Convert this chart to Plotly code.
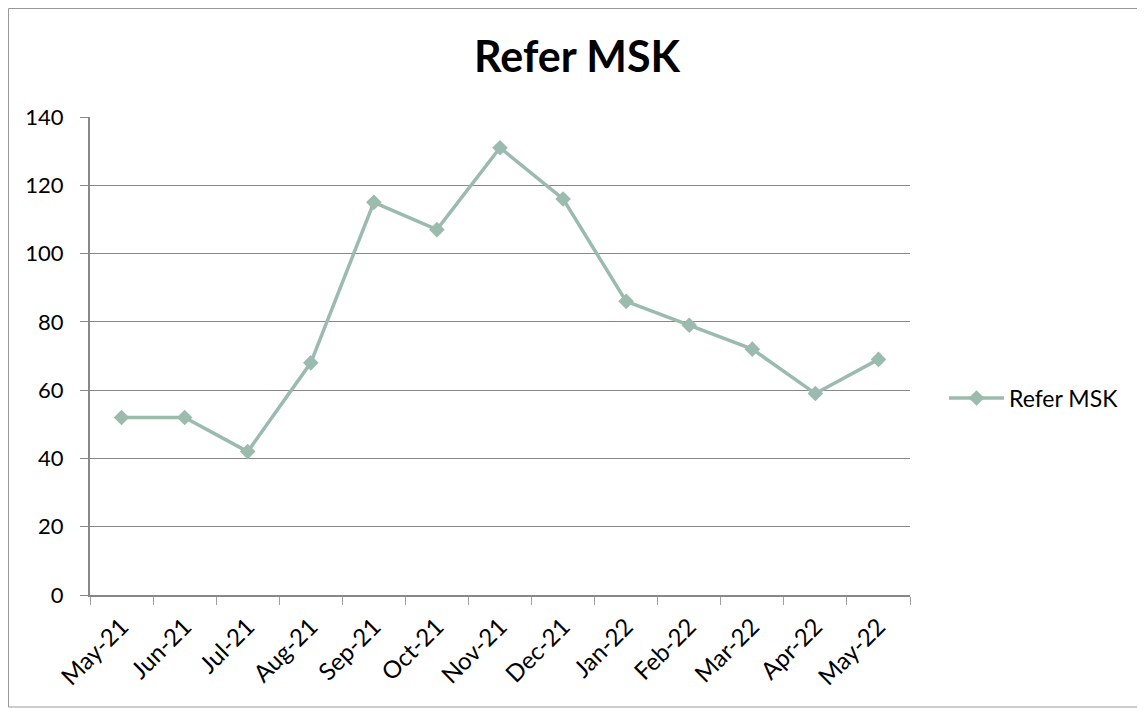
import plotly.graph_objects as go

months = ["May-21", "Jun-21", "Jul-21", "Aug-21", "Sep-21", "Oct-21", "Nov-21",
          "Dec-21", "Jan-22", "Feb-22", "Mar-22", "Apr-22", "May-22"]
refer_msk = [52, 52, 42, 68, 115, 107, 131, 116, 86, 79, 72, 59, 69]
y_ticks = [0, 20, 40, 60, 80, 100, 120, 140]

# page offset (default body margin) compensation
OFF = 8
W, H = 1145 - OFF, 708 - OFF
L, R, T, B = 90 - OFF, 910 - OFF, 117 - OFF, 595 - OFF

fig = go.Figure()
fig.add_trace(go.Scatter(
    x=months, y=refer_msk, mode="lines+markers", name="Refer MSK",
    line=dict(color="#9BBBAE", width=3.5),
    marker=dict(symbol="diamond", size=12, color="#9BBBAE"),
))

def px(xp):
    return (xp - OFF - L) / (R - L)

def py(yp):
    return (B - (yp - OFF)) / (B - T)

fig.update_layout(
    width=W, height=H,
    margin=dict(l=L, r=W - R, t=T, b=H - B, autoexpand=False),
    paper_bgcolor="white", plot_bgcolor="white",
    font=dict(family="Lato, Carlito, sans-serif", color="black", size=21),
    title=dict(text="<b>Refer MSK</b>", x=px(577), xanchor="center", xref="paper",
               y=1 - (57 - OFF) / H, yanchor="middle", font=dict(size=43)),
    showlegend=True,
    legend=dict(x=px(944), y=py(398), xanchor="left", yanchor="middle",
                font=dict(size=23), bgcolor="rgba(0,0,0,0)", itemwidth=55),
    xaxis=dict(type="category", range=[-0.5, len(months) - 0.5],
               tickson="boundaries", ticks="outside", ticklen=8, tickcolor="#A0A0A0",
               showline=True, linecolor="#888888", linewidth=2,
               showgrid=False, tickangle=-45, tickfont=dict(size=24),
               ticklabelstandoff=6),
    yaxis=dict(range=[0, 140], tickvals=y_ticks, ticks="outside", ticklen=8,
               tickcolor="#888888", showline=True, linecolor="#888888", linewidth=2,
               showgrid=True, gridcolor="#888888", gridwidth=1, zeroline=False,
               tickfont=dict(size=22), ticklabelstandoff=12),
    shapes=[dict(type="rect", xref="paper", yref="paper",
                 x0=px(8.5), x1=px(1150), y0=py(707), y1=py(8.5),
                 line=dict(color="#999999", width=1), layer="below")],
)

fig.write_html("out.html")
